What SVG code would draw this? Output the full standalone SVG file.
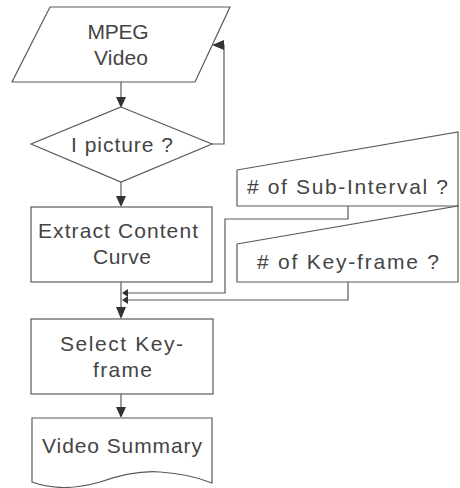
<svg xmlns="http://www.w3.org/2000/svg" width="460" height="488" viewBox="0 0 460 488">
  <style>
    .shape { fill: #ffffff; stroke: #5a5a5a; stroke-width: 1.2; }
    .wire { fill: none; stroke: #5a5a5a; stroke-width: 1.2; }
    .head { fill: #333333; stroke: none; }
    .label { font-family: "Liberation Sans", Arial, sans-serif; font-size: 21px; fill: #444444; text-anchor: middle; }
  </style>
  <rect width="460" height="488" fill="#ffffff"/>

  <!-- connectors -->
  <g id="connectors">
    <!-- input -> decision -->
    <path class="wire" d="M121,82 V98"/>
    <polygon class="head" points="116,97 126,97 121,108"/>
    <!-- decision loop back to input -->
    <path class="wire" d="M212,144 H224 V45 H222"/>
    <polygon class="head" points="224,40 224,50 212,45"/>
    <!-- decision -> extract -->
    <path class="wire" d="M121,182 V197"/>
    <polygon class="head" points="116,196 126,196 121,207"/>
    <!-- extract -> select -->
    <path class="wire" d="M121,282 V308"/>
    <polygon class="head" points="116,307 126,307 121,319"/>
    <!-- sub-interval input -> main line -->
    <path class="wire" d="M348,206 V219 H225 V293 H127"/>
    <polygon class="head" points="128,289 128,297 122,293"/>
    <!-- key-frame input -> main line -->
    <path class="wire" d="M348,282 V300 H127"/>
    <polygon class="head" points="128,296 128,304 122,300"/>
    <!-- select -> summary -->
    <path class="wire" d="M121,394 V408"/>
    <polygon class="head" points="116,407 126,407 121,418"/>
  </g>

  <g id="mpeg-video">
    <polygon class="shape" points="50,7 230,7 195,82 12,82"/>
    <text class="label" x="118" y="39" textLength="61" lengthAdjust="spacing">MPEG</text>
    <text class="label" x="121" y="65" textLength="54" lengthAdjust="spacing">Video</text>
  </g>

  <g id="i-picture">
    <polygon class="shape" points="121,107 212,144 121,182 31,144"/>
    <text class="label" x="122" y="152" textLength="102" lengthAdjust="spacing">I picture ?</text>
  </g>

  <g id="extract-curve">
    <rect class="shape" x="31" y="207" width="181" height="75"/>
    <text class="label" x="118" y="238" textLength="160" lengthAdjust="spacing">Extract Content</text>
    <text class="label" x="122" y="264" textLength="58" lengthAdjust="spacing">Curve</text>
  </g>

  <g id="sub-interval">
    <polygon class="shape" points="237,170 458,132 458,206 237,206"/>
    <text class="label" x="347.5" y="194" textLength="201" lengthAdjust="spacing"># of Sub-Interval ?</text>
  </g>

  <g id="key-frame-count">
    <polygon class="shape" points="237,244 458,206 458,282 237,282"/>
    <text class="label" x="348" y="269" textLength="182" lengthAdjust="spacing"># of Key-frame ?</text>
  </g>

  <g id="select-key-frame">
    <rect class="shape" x="31" y="319" width="182" height="75"/>
    <text class="label" x="121.5" y="351" textLength="123" lengthAdjust="spacing">Select Key-</text>
    <text class="label" x="122.5" y="377" textLength="59" lengthAdjust="spacing">frame</text>
  </g>

  <g id="video-summary">
    <path class="shape" d="M32,418 H212 V483 Q190,474 160,472 Q135,470 100,482 Q62,493 32,482 Z"/>
    <text class="label" x="122" y="453" textLength="160" lengthAdjust="spacing">Video Summary</text>
  </g>
</svg>
